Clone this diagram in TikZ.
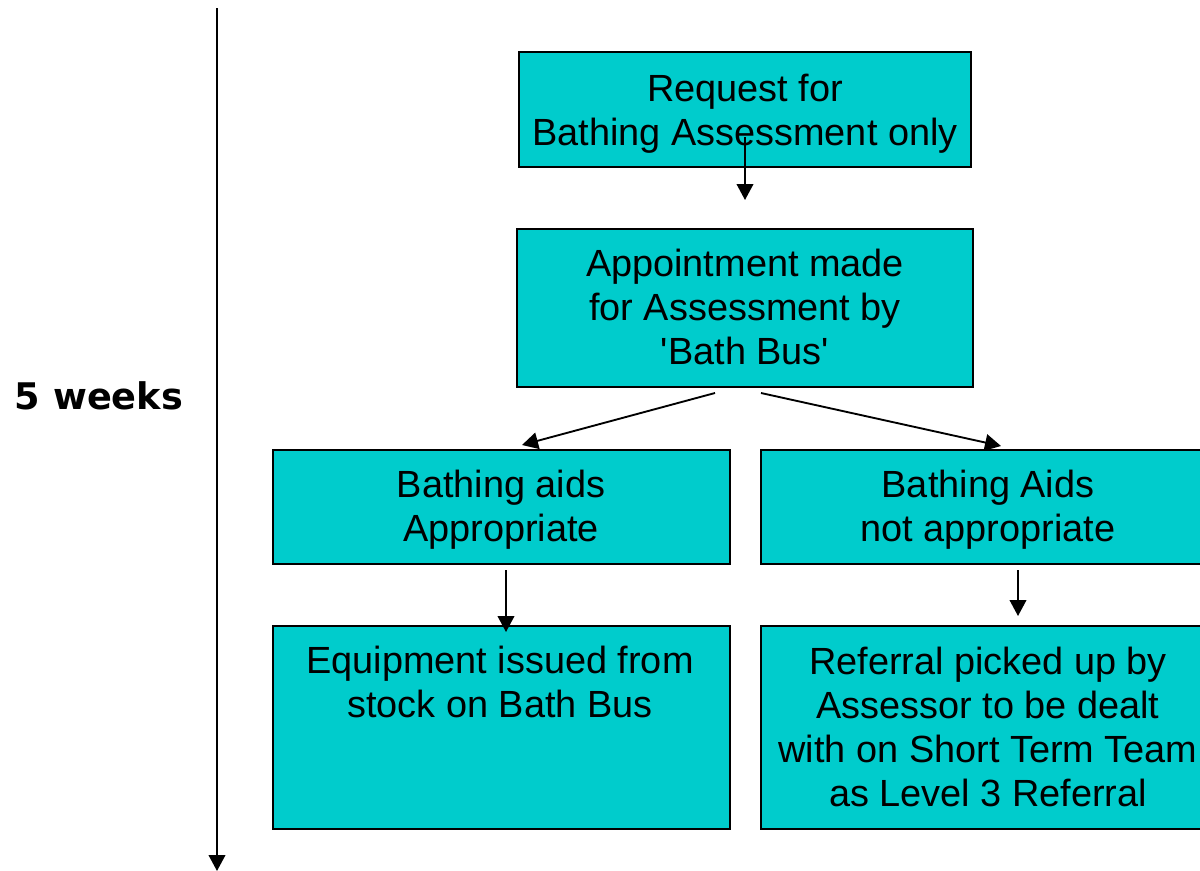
\documentclass[tikz,border=0pt]{standalone}
\usepackage{fontspec}
\setmainfont{Liberation Sans}
\newfontfamily\weeksfont{DejaVu Sans}
\usetikzlibrary{arrows.meta}
\definecolor{boxcyan}{RGB}{0,204,204}
\begin{document}
\begin{tikzpicture}[x=0.75pt,y=-0.75pt,
  boxst/.style={draw=black, line width=1.9pt, fill=boxcyan, inner sep=0pt},
  txt/.style={inner sep=0pt, align=center, font=\fontsize{28.4}{33}\selectfont, anchor=base},
  arr/.style={line width=1.4pt, -{Triangle[width=12.5pt,length=12pt]}}]
\clip (0,0) rectangle (1200,871);
% boxes
\node[boxst, minimum width=339pt, minimum height=86.25pt] (b1) at (745,109.5) {};
\node[boxst, minimum width=342pt, minimum height=118.5pt] (b2) at (745,308) {};
\node[boxst, minimum width=342.75pt, minimum height=85.5pt] (b3) at (501.5,507) {};
\node[boxst, minimum width=351.75pt, minimum height=85.5pt] (b4) at (995.5,507) {};
\node[boxst, minimum width=342.75pt, minimum height=152.25pt] (b5) at (501.5,727.5) {};
\node[boxst, minimum width=351.75pt, minimum height=152.25pt] (b6) at (995.5,727.5) {};
% texts (base anchor = last line baseline)
\node[txt] (t1) at (745,145) {Request for\\Bathing Assessment only};
\node[txt] (t2) at (745,364) {Appointment made\\for Assessment by\\\textquotesingle Bath Bus\textquotesingle};
\node[txt] (t3) at (501,541) {Bathing aids\\Appropriate};
\node[txt] (t4) at (988,541) {Bathing Aids\\not appropriate};
\node[txt] (t5) at (500,717) {Equipment issued from\\stock on Bath Bus};
\node[txt] (t6) at (988,806) {Referral picked up by\\Assessor to be dealt\\with on Short Term Team\\as Level 3 Referral};
\node[inner sep=0pt, anchor=base, font=\weeksfont\bfseries\fontsize{27.5}{33}\selectfont] (wk) at (99,409) {5 weeks};
% connector end points
\coordinate (a1s) at (745,137);
\coordinate (a1e) at (745,200);
\coordinate (a2s) at (715,393);
\coordinate (a2e) at (522,445);
\coordinate (a3s) at (761,393);
\coordinate (a3e) at (1001,446);
\coordinate (a4s) at (506,570);
\coordinate (a4e) at (506,632);
\coordinate (a5s) at (1018,570);
\coordinate (a5e) at (1018,616);
\coordinate (ts) at (217,8);
\coordinate (te) at (217,871);
% connectors
\draw[arr] (a1s) -- (a1e);
\draw[arr] (a2s) -- (a2e);
\draw[arr] (a3s) -- (a3e);
\draw[arr] (a4s) -- (a4e);
\draw[arr] (a5s) -- (a5e);
\draw[arr] (ts) -- (te);
\end{tikzpicture}
\end{document}
